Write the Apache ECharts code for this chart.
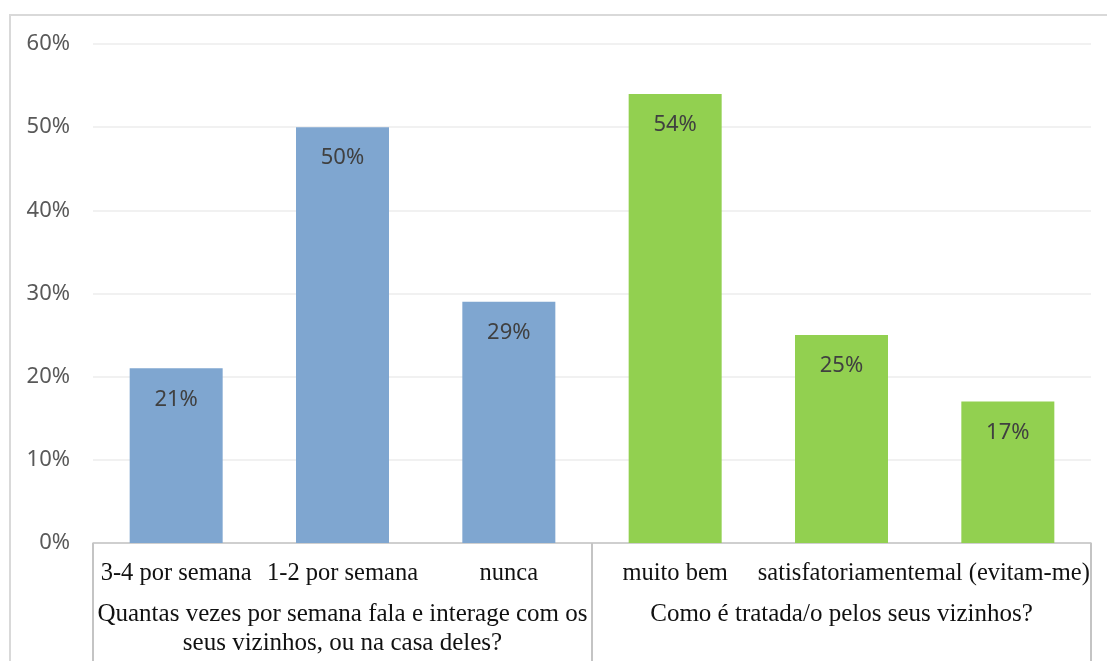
<!DOCTYPE html>
<html>
<head>
<meta charset="utf-8">
<title>Vizinhos</title>
<script src="https://cdn.jsdelivr.net/npm/echarts@6/dist/echarts.min.js"></script>
<style>
  html, body { margin: 0; padding: 0; background: #fff; }
  #chart { width: 1107px; height: 661px; }
</style>
</head>
<body>
<div id="chart"></div>
<script>
// categorias e valores (%)
var categories = ["3-4 por semana", "1-2 por semana", "nunca", "muito bem", "satisfatoriamente", "mal (evitam-me)"];
var values = [21, 50, 29, 54, 25, 17];
var groupOfCategory = [0, 0, 0, 1, 1, 1];
var groups = [
  "Quantas vezes por semana fala e interage com os\nseus vizinhos, ou na casa deles?",
  "Como é tratada/o pelos seus vizinhos?"
];
var groupColors = ["#7fa6d0", "#92d050"];
var yTicks = { min: 0, max: 60, interval: 10 };

var chart = echarts.init(document.getElementById("chart"));

var serif = "'Liberation Serif', 'Times New Roman', serif";
var sans = "'Noto Sans', 'Open Sans', sans-serif";

var option = {
  animation: false,
  backgroundColor: "#fff",
  graphic: [
    {
      type: "rect",
      shape: { x: 10, y: 15, width: 1200, height: 700 },
      style: { fill: "none", stroke: "#d9d9d9", lineWidth: 2 },
      silent: true
    }
  ],
  grid: { left: 93, right: 16, top: 44, bottom: 118 },
  xAxis: [
    {
      type: "category",
      data: categories,
      axisLine: { show: true, lineStyle: { color: "#c4c4c4", width: 1.5 } },
      axisTick: { show: false },
      axisLabel: {
        interval: 0,
        margin: 17,
        fontFamily: serif,
        fontSize: 24.5,
        lineHeight: 27,
        color: "#111"
      }
    },
    {
      // second level: question groups, ticks draw the box separators
      type: "category",
      data: groups,
      position: "bottom",
      axisLine: { show: false },
      axisTick: {
        show: true,
        length: 120,
        lineStyle: { color: "#c4c4c4", width: 2 }
      },
      axisLabel: {
        interval: 0,
        margin: 57,
        fontFamily: serif,
        fontSize: 25,
        lineHeight: 29,
        color: "#111"
      }
    }
  ],
  yAxis: {
    type: "value",
    min: yTicks.min,
    max: yTicks.max,
    interval: yTicks.interval,
    axisLine: { show: false },
    axisTick: { show: false },
    splitLine: { lineStyle: { color: "#ececec", width: 1.5 } },
    axisLabel: {
      formatter: "{value}%",
      margin: 23,
      fontFamily: sans,
      fontSize: 22,
      color: "#595959"
    }
  },
  series: [
    {
      type: "bar",
      xAxisIndex: 0,
      barWidth: 93,
      data: values.map(function (v, i) {
        return { value: v, itemStyle: { color: groupColors[groupOfCategory[i]] } };
      }),
      label: {
        show: true,
        position: "insideTop",
        distance: 20,
        formatter: "{c}%",
        fontFamily: sans,
        fontSize: 22,
        color: "#404040"
      }
    }
  ]
};

chart.setOption(option);
</script>
</body>
</html>
